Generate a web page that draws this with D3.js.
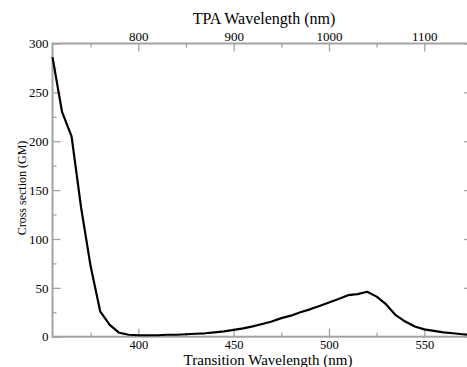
<!DOCTYPE html>
<html><head><meta charset="utf-8">
<script src="https://cdn.jsdelivr.net/npm/d3@7"></script>
<style>body{margin:0;background:#fff}svg{display:block}svg text{font-family:"Liberation Serif","Times New Roman",serif !important;fill:#000}</style>
</head><body><svg id="c" width="467" height="367"></svg>
<script>
const wavelengths = [355,360,365,370,375,380,385,390,395,400,405,410,415,420,425,430,435,440,445,450,455,460,465,470,475,480,485,490,495,500,505,510,515,520,525,530,535,540,545,550,555,560,565,570,575];
const crossSection = [286,230,205,132,72,26,12,4,2,1.5,1.5,1.5,2,2,2.5,3,3.5,4.5,5.5,7,8.5,10.5,13,15.5,19,21.5,25,28,31.5,35,38.5,42.5,43.5,46,41,33,22,15.5,10.5,7.5,6,4.5,3.5,2.5,1.5];
const bottomTicks = [400,450,500,550];
const bottomMinor = [375,425,475,525,575];
const topTicks = [800,900,1000,1100];
const topMinor = [750,850,950,1050,1150];
const yTicks = [0,50,100,150,200,250,300];
const yMinor = [25,75,125,175,225,275];

const m = {l:52.5, r:472, t:43.5, b:336.7};
const svg = d3.select('#c');
const x = d3.scaleLinear().domain([355,575]).range([m.l,m.r]);
const xTop = d3.scaleLinear().domain([710,1150]).range([m.l,m.r]);
const y = d3.scaleLinear().domain([0,300]).range([m.b,m.t]);
const axCol = '#a3a3a3';

function style(g, size){
  g.attr('font-family',null).attr('font-size',null);
  g.select('.domain').remove();
  g.selectAll('.tick line').attr('stroke',axCol).attr('stroke-width',1.3);
  g.selectAll('.tick text').style('font-size',(size||13)+'px').style('font-family','"Liberation Serif", serif');
}
// frame
svg.append('rect').attr('x',m.l).attr('y',m.t).attr('width',m.r-m.l).attr('height',m.b-m.t)
  .attr('fill','none').attr('stroke',axCol).attr('stroke-width',2);

// bottom
svg.append('g').attr('transform',`translate(0,${m.b})`)
  .call(d3.axisTop(x).tickValues(bottomTicks).tickSize(8).tickFormat('')).call(style);
svg.append('g').attr('transform',`translate(0,${m.b})`)
  .call(d3.axisTop(x).tickValues(bottomMinor).tickSize(4).tickFormat('')).call(style);
svg.append('g').attr('transform',`translate(0,${m.b})`)
  .call(d3.axisBottom(x).tickValues(bottomTicks).tickSize(0).tickPadding(3.5).tickFormat(d3.format('d'))).call(g=>style(g,12.5));
// top
svg.append('g').attr('transform',`translate(0,${m.t})`)
  .call(d3.axisBottom(xTop).tickValues(topTicks).tickSize(8).tickFormat('')).call(style);
svg.append('g').attr('transform',`translate(0,${m.t})`)
  .call(d3.axisBottom(xTop).tickValues(topMinor).tickSize(4).tickFormat('')).call(style);
svg.append('g').attr('transform',`translate(0,${m.t})`)
  .call(d3.axisTop(xTop).tickValues(topTicks).tickSize(0).tickPadding(3).tickFormat(d3.format('d'))).call(style);
// left
svg.append('g').attr('transform',`translate(${m.l},0)`)
  .call(d3.axisRight(y).tickValues(yTicks).tickSize(8).tickFormat('')).call(style);
svg.append('g').attr('transform',`translate(${m.l},0)`)
  .call(d3.axisRight(y).tickValues(yMinor).tickSize(4).tickFormat('')).call(style);
svg.append('g').attr('transform',`translate(${m.l},0)`)
  .call(d3.axisLeft(y).tickValues(yTicks).tickSize(0).tickPadding(4).tickFormat(d3.format('d'))).call(style);
// right
svg.append('g').attr('transform',`translate(${m.r},0)`)
  .call(d3.axisLeft(y).tickValues(yTicks).tickSize(8).tickFormat('')).call(style);
svg.append('g').attr('transform',`translate(${m.r},0)`)
  .call(d3.axisLeft(y).tickValues(yMinor).tickSize(4).tickFormat('')).call(style);

// line
svg.append('path').datum(wavelengths.map((w,i)=>[w,crossSection[i]]))
  .attr('fill','none').attr('stroke','#000').attr('stroke-width',2.2).attr('stroke-linejoin','round')
  .attr('d', d3.line().x(d=>x(d[0])).y(d=>y(d[1])));

// titles
svg.append('text').attr('x',268).attr('y',364.6).attr('text-anchor','middle').style('font-size','15px').text('Transition Wavelength (nm)');
svg.append('text').attr('x',264).attr('y',24).attr('text-anchor','middle').style('font-size','16px').text('TPA Wavelength (nm)');
svg.append('text').attr('transform','translate(26,188) rotate(-90)').attr('text-anchor','middle').style('font-size','12px').text('Cross section (GM)');
</script></body></html>
